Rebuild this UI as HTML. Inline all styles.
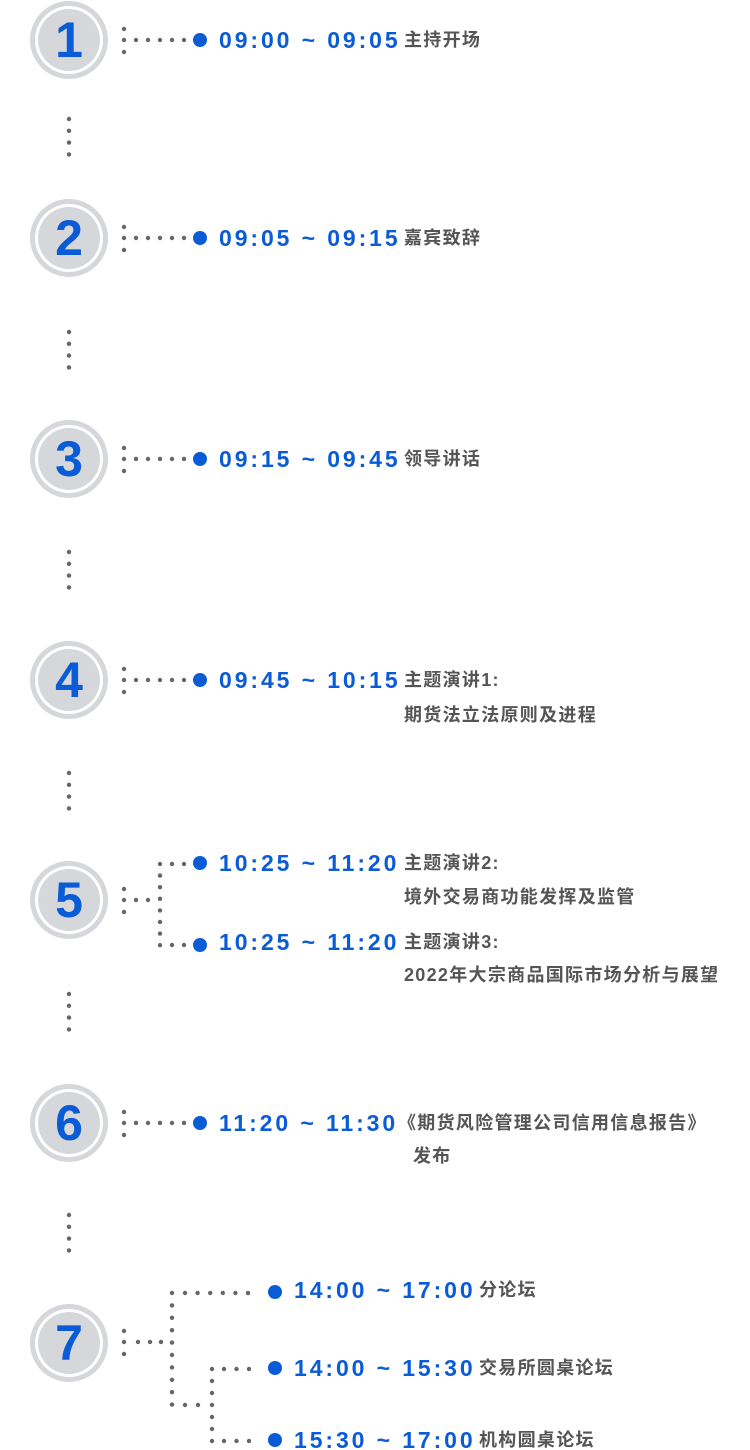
<!DOCTYPE html>
<html><head><meta charset="utf-8"><style>
html,body{margin:0;padding:0;background:#fff;}
#c{position:relative;width:750px;height:1450px;overflow:hidden;}
svg{position:absolute;left:0;top:0;}
.t{position:absolute;height:26px;line-height:26px;font-family:"Liberation Sans",Arial,sans-serif;font-weight:bold;font-size:23px;letter-spacing:2.9px;color:#0a5bd6;white-space:nowrap;}
.l{position:absolute;height:26px;line-height:26px;font-family:"Liberation Sans","Noto Sans CJK SC",sans-serif;font-weight:bold;font-size:18px;letter-spacing:1.3px;color:#555;white-space:nowrap;}
.n{position:absolute;width:80px;height:60px;line-height:60px;text-align:center;font-family:"Liberation Sans",Arial,sans-serif;font-weight:bold;font-size:50px;color:#0a5bd6;}
</style></head><body><div id="c">
<svg width="750" height="1450" id="s"></svg>

<div class="t" style="left:219px;top:27px">09:00 ~ 09:05</div><div class="l" style="left:404px;top:27px">主持开场</div>
<div class="t" style="left:219px;top:225px">09:05 ~ 09:15</div><div class="l" style="left:404px;top:225px">嘉宾致辞</div>
<div class="t" style="left:219px;top:446px">09:15 ~ 09:45</div><div class="l" style="left:404px;top:446px">领导讲话</div>
<div class="t" style="left:219px;top:667px">09:45 ~ 10:15</div><div class="l" style="left:404px;top:667px">主题演讲1:</div>
<div class="l" style="left:404px;top:702px">期货法立法原则及进程</div>
<div class="t" style="left:219px;top:850px">10:25 ~ 11:20</div><div class="l" style="left:404px;top:850px">主题演讲2:</div>
<div class="l" style="left:404px;top:884px">境外交易商功能发挥及监管</div>
<div class="t" style="left:219px;top:929px">10:25 ~ 11:20</div><div class="l" style="left:404px;top:929px">主题演讲3:</div>
<div class="l" style="left:404px;top:962px">2022年大宗商品国际市场分析与展望</div>
<div class="t" style="left:219px;top:1110px">11:20 ~ 11:30</div><div class="l" style="left:398px;top:1110px">《期货风险管理公司信用信息报告》</div>
<div class="l" style="left:413px;top:1143px">发布</div>
<div class="t" style="left:294px;top:1277px">14:00 ~ 17:00</div><div class="l" style="left:479px;top:1277px">分论坛</div>
<div class="t" style="left:294px;top:1355px">14:00 ~ 15:30</div><div class="l" style="left:479px;top:1355px">交易所圆桌论坛</div>
<div class="t" style="left:294px;top:1427px">15:30 ~ 17:00</div><div class="l" style="left:479px;top:1427px">机构圆桌论坛</div>

<div class="n" style="left:29px;top:10px">1</div>
<div class="n" style="left:29px;top:208px">2</div>
<div class="n" style="left:29px;top:429px">3</div>
<div class="n" style="left:29px;top:650px">4</div>
<div class="n" style="left:29px;top:870px">5</div>
<div class="n" style="left:29px;top:1093px">6</div>
<div class="n" style="left:29px;top:1313px">7</div>
</div>
<script>
var s=document.getElementById('s'),h='';
function d(x,y){h+='<circle cx="'+x+'" cy="'+y+'" r="2.2" fill="#666"/>';}
function B(x,y){h+='<circle cx="'+x+'" cy="'+y+'" r="7" fill="#0a5bd6"/>';}
function C(y){h+='<circle cx="69" cy="'+y+'" r="39" fill="#d6d7da"/><circle cx="69" cy="'+y+'" r="34" fill="#fff"/><circle cx="69" cy="'+y+'" r="31" fill="#d6d7da"/>';}
var cs=[40,238,459,680,900,1123,1343];
cs.forEach(C);
[119,332,552,773,994,1215].forEach(function(y){for(var i=0;i<4;i++)d(69,y+i*11.8);});
[40,238,459,680,1123].forEach(function(y){d(124,y-11);d(124,y);d(124,y+12);for(var x=136;x<=184;x+=12)d(x,y);B(200,y);});
d(124,889);d(124,900);d(124,912);d(136,900);d(148,900);
for(var i=0;i<8;i++)d(160,864+i*11.6);
d(172,864);d(184,864);B(200,863);d(172,945);d(184,945);B(200,945);
d(124,1331);d(124,1342);d(124,1354);d(138,1342);d(150,1342);d(161,1342);
for(var i=0;i<10;i++)d(172,1293+i*12.4);
for(var x=185;x<=255;x+=12.6)d(x,1293);B(275,1292);
d(185,1405);d(198,1405);
for(var i=0;i<7;i++)d(212,1369+i*12);
for(var x=224;x<=255;x+=12.5)d(x,1369);B(275,1368);
for(var x=224;x<=255;x+=12.5)d(x,1441);B(275,1440);
s.innerHTML=h;
</script>
</body></html>
